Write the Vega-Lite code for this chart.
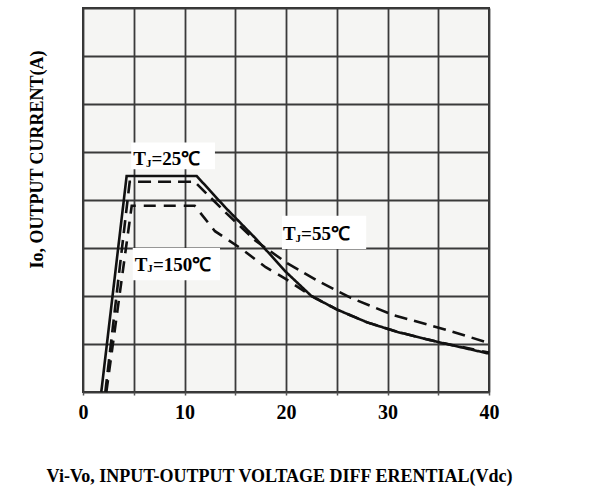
{
  "$schema": "https://vega.github.io/schema/vega-lite/v6.json",
  "width": 406,
  "height": 384,
  "autosize": {"type": "none"},
  "padding": {"left": 83, "top": 8, "right": 106, "bottom": 100},
  "background": "white",
  "config": {
    "view": {"fill": "#f5f5f3", "stroke": "#333333", "strokeWidth": 2},
    "font": "Liberation Serif"
  },
  "datasets": {
    "curves": [
      {"v": 1.8, "i": 0, "s": "25"}, {"v": 4.3, "i": 4.5, "s": "25"}, {"v": 11.2, "i": 4.5, "s": "25"},
      {"v": 14, "i": 3.85, "s": "25"}, {"v": 17, "i": 3.2, "s": "25"}, {"v": 20, "i": 2.5, "s": "25"},
      {"v": 22.5, "i": 2.0, "s": "25"}, {"v": 25, "i": 1.72, "s": "25"}, {"v": 28, "i": 1.45, "s": "25"},
      {"v": 31, "i": 1.25, "s": "25"}, {"v": 35, "i": 1.04, "s": "25"}, {"v": 40, "i": 0.8, "s": "25"},
      {"v": 2.2, "i": 0, "s": "55"}, {"v": 4.6, "i": 4.38, "s": "55"}, {"v": 11, "i": 4.38, "s": "55"},
      {"v": 14, "i": 3.75, "s": "55"}, {"v": 17, "i": 3.15, "s": "55"}, {"v": 20, "i": 2.7, "s": "55"},
      {"v": 23, "i": 2.33, "s": "55"}, {"v": 26.4, "i": 1.96, "s": "55"}, {"v": 30.6, "i": 1.6, "s": "55"},
      {"v": 35.9, "i": 1.29, "s": "55"}, {"v": 40, "i": 1.02, "s": "55"},
      {"v": 2.3, "i": 0, "s": "150"}, {"v": 4.8, "i": 3.88, "s": "150"}, {"v": 11, "i": 3.88, "s": "150"},
      {"v": 13, "i": 3.35, "s": "150"}, {"v": 15.5, "i": 3.0, "s": "150"}, {"v": 18, "i": 2.6, "s": "150"},
      {"v": 20, "i": 2.35, "s": "150"}, {"v": 22.5, "i": 2.0, "s": "150"}, {"v": 25, "i": 1.72, "s": "150"},
      {"v": 28, "i": 1.45, "s": "150"}, {"v": 31, "i": 1.25, "s": "150"}, {"v": 35, "i": 1.04, "s": "150"},
      {"v": 40, "i": 0.82, "s": "150"}
    ],
    "boxes": [
      {"x1": 4.75, "x2": 13.0, "y1": 4.64, "y2": 5.2},
      {"x1": 4.9, "x2": 13.5, "y1": 2.33, "y2": 3.0},
      {"x1": 19.6, "x2": 27.9, "y1": 2.98, "y2": 3.67}
    ],
    "labels": [
      {"x": 4.96, "y": 4.73, "t": "T", "part": "main"},
      {"x": 6.2, "y": 4.69, "t": "J", "part": "sub"},
      {"x": 6.75, "y": 4.73, "t": "=25℃", "part": "main"},
      {"x": 5.1, "y": 2.53, "t": "T", "part": "main"},
      {"x": 6.34, "y": 2.49, "t": "J", "part": "sub"},
      {"x": 6.89, "y": 2.53, "t": "=150℃", "part": "main"},
      {"x": 19.7, "y": 3.17, "t": "T", "part": "main"},
      {"x": 20.94, "y": 3.13, "t": "J", "part": "sub"},
      {"x": 21.49, "y": 3.17, "t": "=55℃", "part": "main"}
    ]
  },
  "layer": [
    {
      "data": {"name": "boxes"},
      "mark": {"type": "rect", "fill": "white"},
      "encoding": {
        "x": {"field": "x1", "type": "quantitative", "scale": {"domain": [0, 40], "nice": false},
          "axis": {
            "values": [0, 5, 10, 15, 20, 25, 30, 35, 40],
            "labelExpr": "datum.value % 10 === 0 ? datum.label : ''",
            "grid": true, "gridColor": "#3a3a3a", "gridWidth": 1.8,
            "domain": false, "ticks": true, "tickSize": 3, "tickColor": "#555", "tickWidth": 1.5,
            "labelFlush": false, "labelPadding": 7, "labelFont": "Liberation Serif", "labelFontWeight": "bold",
            "labelFontSize": 20, "labelColor": "black",
            "title": "Vi-Vo, INPUT-OUTPUT VOLTAGE DIFF ERENTIAL(Vdc)",
            "titleFont": "Liberation Serif", "titleFontWeight": "bold", "titleFontSize": 18, "titleColor": "black",
            "titleBaseline": "alphabetic", "titleY": 89, "titleX": 196, "titleAnchor": null
          }},
        "x2": {"field": "x2"},
        "y": {"field": "y1", "type": "quantitative", "scale": {"domain": [0, 8], "nice": false},
          "axis": {
            "values": [0, 1, 2, 3, 4, 5, 6, 7, 8],
            "labels": false, "ticks": false, "domain": false,
            "grid": true, "gridColor": "#3a3a3a", "gridWidth": 1.8,
            "title": "Io, OUTPUT CURRENT(A)",
            "titleFont": "Liberation Serif", "titleFontWeight": "bold", "titleFontSize": 18, "titleColor": "black",
            "titleAngle": 270, "titleBaseline": "alphabetic", "titleX": -41, "titleY": 151, "titleAlign": "center"
          }},
        "y2": {"field": "y2"}
      }
    },
    {
      "data": {"name": "curves"},
      "mark": {"type": "line", "color": "#111111"},
      "encoding": {
        "x": {"field": "v", "type": "quantitative"},
        "y": {"field": "i", "type": "quantitative"},
        "detail": {"field": "s"},
        "strokeDash": {"field": "s", "type": "nominal", "scale": {"domain": ["25", "55", "150"], "range": [[1, 0], [13, 7], [12, 8]]}, "legend": null},
        "strokeWidth": {"field": "s", "type": "nominal", "scale": {"domain": ["25", "55", "150"], "range": [2.6, 2.6, 1.6]}, "legend": null}
      }
    },
    {
      "data": {"name": "labels"},
      "transform": [{"filter": "datum.part === 'main'"}],
      "mark": {"type": "text", "align": "left", "baseline": "alphabetic", "font": "Liberation Serif", "fontWeight": "bold", "fontSize": 19, "color": "black"},
      "encoding": {
        "x": {"field": "x", "type": "quantitative"},
        "y": {"field": "y", "type": "quantitative"},
        "text": {"field": "t"}
      }
    },
    {
      "data": {"name": "labels"},
      "transform": [{"filter": "datum.part === 'sub'"}],
      "mark": {"type": "text", "align": "left", "baseline": "alphabetic", "font": "Liberation Serif", "fontWeight": "bold", "fontSize": 11, "color": "black"},
      "encoding": {
        "x": {"field": "x", "type": "quantitative"},
        "y": {"field": "y", "type": "quantitative"},
        "text": {"field": "t"}
      }
    }
  ]
}
